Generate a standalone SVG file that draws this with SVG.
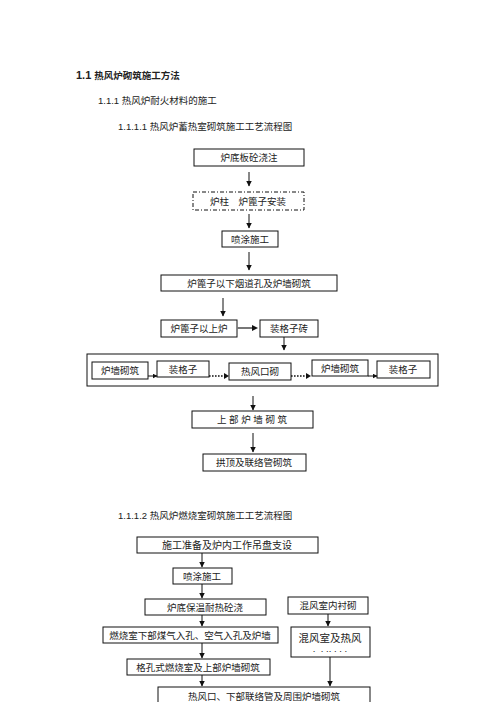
<svg xmlns="http://www.w3.org/2000/svg" width="496" height="702" viewBox="0 0 496 702">
<defs>
<marker id="ah" viewBox="0 0 6 6" refX="5.5" refY="3" markerWidth="6" markerHeight="6" markerUnits="userSpaceOnUse" orient="auto">
<path d="M0,0 L6,3 L0,6 Z" fill="#111"/>
</marker>
<marker id="as" viewBox="0 0 5 5" refX="4.5" refY="2.5" markerWidth="5" markerHeight="5" markerUnits="userSpaceOnUse" orient="auto">
<path d="M0,0 L5,2.5 L0,5 Z" fill="#111"/>
</marker>
</defs>
<style>
.b{fill:#fff;stroke:#111;stroke-width:1}
.d{fill:#fff;stroke:#111;stroke-width:1;stroke-dasharray:4 2 1 2}
.t{font-family:"Liberation Sans","Noto Sans CJK SC",sans-serif;font-size:9.5px;fill:#222;text-anchor:middle}
.h{font-family:"Liberation Sans","Noto Sans CJK SC",sans-serif;font-size:9.5px;fill:#222}
.c{stroke:#111;stroke-width:1;fill:none;marker-end:url(#ah)}
.cs{stroke:#111;stroke-width:1;fill:none;marker-end:url(#as)}
.g{stroke:#777;stroke-width:2;fill:none}
.dot{stroke:#111;stroke-width:1.6;fill:none;stroke-dasharray:1.6 1.4}
</style>
<rect width="496" height="702" fill="#fff"/>
<g id="headings">
<text x="76" y="79" class="h" style="font-size:11px;font-weight:bold">1.1 <tspan style="font-size:9.5px">热风炉砌筑施工方法</tspan></text>
<text x="98" y="104" class="h">1.1.1 热风炉耐火材料的施工</text>
<text x="118" y="130" class="h">1.1.1.1 热风炉蓄热室砌筑施工工艺流程图</text>
<text x="118" y="519" class="h">1.1.1.2 热风炉燃烧室砌筑施工工艺流程图</text>
</g>
<g id="n1"><rect x="194" y="149" width="110" height="17" class="b"/><text x="249" y="161" class="t">炉底板砼浇注</text></g>
<g id="n2"><rect x="193" y="192" width="111" height="18" class="d"/><text x="248" y="205" class="t">炉柱　炉篦子安装</text></g>
<g id="n3"><rect x="222" y="231" width="56" height="16" class="b"/><text x="250" y="243" class="t">喷涂施工</text></g>
<g id="n4"><rect x="161" y="275" width="176" height="16" class="b"/><text x="249" y="287" class="t">炉篦子以下烟道孔及炉墙砌筑</text></g>
<g id="n5"><rect x="161" y="320" width="76" height="17" class="b"/><text x="199" y="332" class="t">炉篦子以上炉</text></g>
<g id="n6"><rect x="260" y="320" width="58" height="17" class="b"/><text x="289" y="332" class="t">装格子砖</text></g>
<g id="n7"><rect x="87" y="354" width="351" height="32" fill="none" stroke="#111" stroke-width="1"/></g>
<g id="n8"><rect x="92" y="362" width="56" height="17" class="b"/><text x="120" y="374" class="t">炉墙砌筑</text></g>
<g id="n9"><rect x="157" y="361" width="52" height="16" class="b"/><text x="183" y="373" class="t">装格子</text></g>
<g id="n10"><rect x="229" y="363" width="62" height="17" class="b"/><text x="260" y="375" class="t">热风口砌</text></g>
<g id="n11"><rect x="312" y="360" width="56" height="16" class="b"/><text x="340" y="372" class="t">炉墙砌筑</text></g>
<g id="n12"><rect x="377" y="361" width="53" height="17" class="b"/><text x="403" y="373" class="t">装格子</text></g>
<g id="n13"><rect x="192" y="411" width="121" height="17" class="b"/><text x="252" y="423" class="t">上 部 炉 墙 砌 筑</text></g>
<g id="n14"><rect x="203" y="454" width="103" height="17" class="b"/><text x="254" y="466" class="t">拱顶及联络管砌筑</text></g>
<g id="m1"><rect x="137" y="537" width="181" height="16" class="b"/><text x="227" y="549" class="t" style="font-size:10px">施工准备及炉内工作吊盘支设</text></g>
<g id="m2"><rect x="173" y="568" width="59" height="16" class="b"/><text x="202" y="580" class="t">喷涂施工</text></g>
<g id="m3"><rect x="145" y="599" width="121" height="16" class="b"/><text x="205" y="611" class="t">炉底保温耐热砼浇</text></g>
<g id="m4"><rect x="288" y="597" width="80" height="17" class="b"/><text x="328" y="609" class="t">混风室内衬砌</text></g>
<g id="m5"><rect x="103" y="627" width="175" height="16" class="b"/><text x="190" y="639" class="t">燃烧室下部煤气入孔、空气入孔及炉墙</text></g>
<g id="m6"><rect x="291" y="627" width="79" height="30" class="b"/><text x="330" y="642" class="t" style="font-size:10.5px">混风室及热风</text><text x="330" y="652" class="t">. &#160;. .. . . .</text></g>
<g id="m7"><rect x="127" y="659" width="143" height="16" class="b"/><text x="198" y="671" class="t">格孔式燃烧室及上部炉墙砌筑</text></g>
<g id="m8"><rect x="158" y="687" width="212" height="20" class="b"/><text x="264" y="700" class="t">热风口、下部联络管及周围炉墙砌筑</text></g>
<g id="connectors">
<line x1="249" y1="172" x2="249" y2="186" class="c"/>
<line x1="249" y1="214" x2="249" y2="228" class="c"/>
<line x1="249" y1="252" x2="249" y2="270" class="c"/>
<line x1="223" y1="298" x2="223" y2="316" class="c"/>
<line x1="237" y1="328" x2="253" y2="328" class="g"/>
<path d="M252,325 L258,328 L252,331 Z" fill="#111"/>
<line x1="284" y1="337" x2="284" y2="350" class="c"/>
<line x1="148" y1="376" x2="157" y2="376" class="cs"/>
<line x1="209" y1="376" x2="225" y2="376" class="dot"/>
<path d="M224,373 L229,376 L224,379 Z" fill="#111"/>
<line x1="291" y1="376" x2="307" y2="376" class="dot"/>
<path d="M306,373 L311,376 L306,379 Z" fill="#111"/>
<line x1="368" y1="376" x2="377" y2="376" class="cs"/>
<line x1="253" y1="396" x2="253" y2="410" class="c"/>
<line x1="253" y1="433" x2="253" y2="452" class="c"/>
<line x1="202" y1="553" x2="202" y2="567" class="c"/>
<line x1="202" y1="584" x2="202" y2="598" class="c"/>
<line x1="202" y1="615" x2="202" y2="626" class="c"/>
<line x1="202" y1="643" x2="202" y2="658" class="c"/>
<line x1="202" y1="675" x2="202" y2="686" class="c"/>
<line x1="328" y1="614" x2="328" y2="626" class="c"/>
<line x1="330" y1="657" x2="330" y2="686" class="c"/>
</g>
</svg>
